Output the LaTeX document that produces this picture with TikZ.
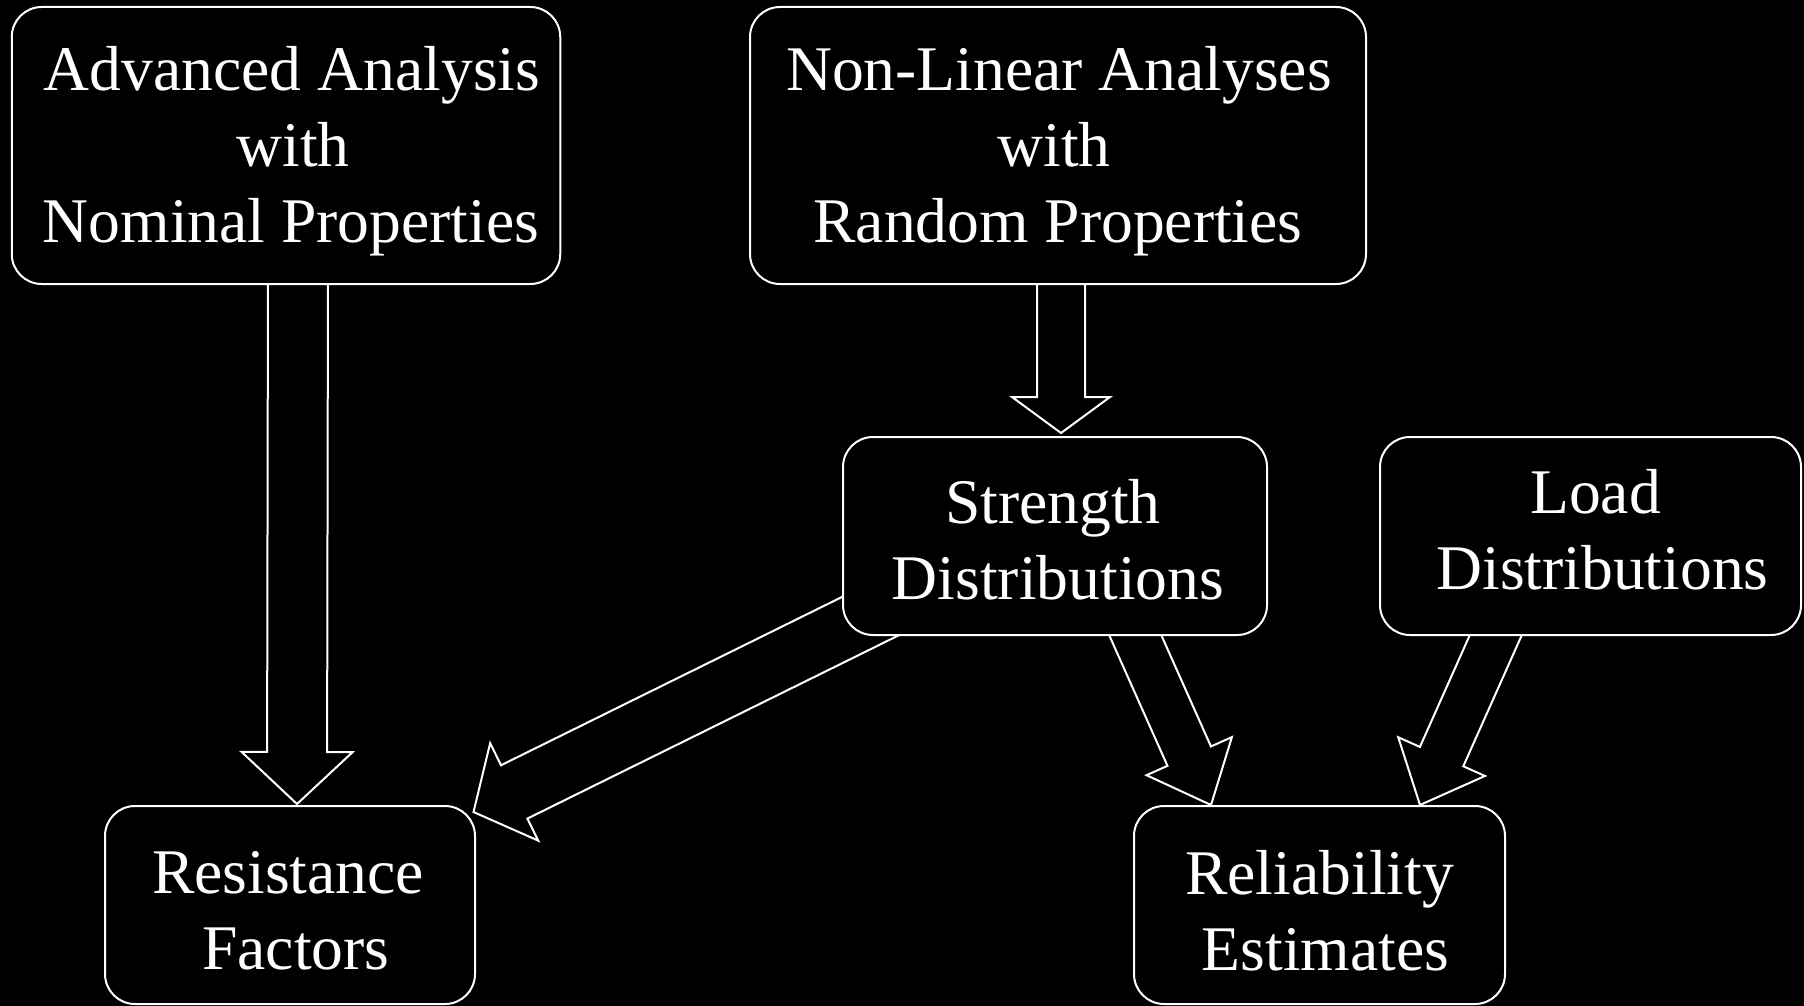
\documentclass[tikz,border=0pt]{standalone}
\usepackage{fontspec}
\setmainfont{Liberation Serif}
\usetikzlibrary{calc,backgrounds}

\tikzset{
  x=0.5pt, y=-0.5pt,
  box/.style={draw=white, fill=black, line width=1pt, rounded corners=15pt,
    inner sep=0pt, text=white, font=\fontsize{31.8}{38}\selectfont},
  barrow/.style={draw=white, fill=black, line width=1pt, line join=miter},
}

% one centred text line, moved sideways by #1 px
\newcommand\tline[2]{\makebox[0pt]{\hspace*{#1pt}#2}}
% stacked lines, lowered by #1
\newcommand\boxtext[2]{\raisebox{#1}[\height][\depth]{\begin{tabular}{@{}c@{}}#2\end{tabular}}}

% Block arrow: #1 tail, #2 tip, #3 shaft width, #4 head width, #5 head length (all in px)
\newcommand\blockarrow[5]{%
  \coordinate (ba-b) at ($(#2)!#5*0.5pt!(#1)$);
  \draw[barrow]
    ($(#1)!#3*0.25pt!90:(#2)$) --
    ($(ba-b)!#3*0.25pt!90:(#2)$) --
    ($(ba-b)!#4*0.25pt!90:(#2)$) --
    (#2) --
    ($(ba-b)!#4*0.25pt!-90:(#2)$) --
    ($(ba-b)!#3*0.25pt!-90:(#2)$) --
    ($(#1)!#3*0.25pt!-90:(#2)$) -- cycle;
}

\begin{document}
\begin{tikzpicture}
\useasboundingbox (0,0) rectangle (1804,1006);

% boxes
\node[box, minimum width=274.25pt, minimum height=138.5pt] (adv) at (286,145.5)
  {\boxtext{-3pt}{\tline{6}{Advanced Analysis}\\\tline{7}{with}\\\tline{5}{Nominal Properties}}};
\node[box, minimum width=308pt, minimum height=138.5pt] (nl) at (1058,145.5)
  {\boxtext{-3pt}{\tline{1}{Non-Linear Analyses}\\\tline{-4}{with}\\\tline{0}{Random Properties}}};
\node[box, minimum width=212pt, minimum height=99pt] (str) at (1055,536)
  {\boxtext{-4.9pt}{\tline{-2}{Strength}\\\tline{3}{Distributions}}};
\node[box, minimum width=210.5pt, minimum height=99pt] (load) at (1590.5,536)
  {\boxtext{0pt}{\tline{5}{Load}\\\tline{12}{Distributions}}};
\node[box, minimum width=185pt, minimum height=99pt] (res) at (290,905)
  {\boxtext{-5.4pt}{\tline{-2}{Resistance}\\\tline{6}{Factors}}};
\node[box, minimum width=185.5pt, minimum height=99pt] (rel) at (1319.5,905)
  {\boxtext{-5.9pt}{\tline{0}{Reliability}\\\tline{6}{Estimates}}};

% block arrows, tails hidden under the boxes
\begin{scope}[on background layer]
  \fill[black] (0,0) rectangle (1804,1006);
  \coordinate (aT) at ($(adv.south)+(12,-24)$);
  \coordinate (aH) at ($(res.north)+(7,-1)$);
  \coordinate (bT) at ($(nl.south)+(3,-24)$);
  \coordinate (bH) at ($(str.north)+(6,-3)$);
  \coordinate (cT) at ($(str.west)+(57,66)$);
  \coordinate (cH) at ($(res.north east)+(-2.5,7)$);
  \coordinate (dT) at ($(str.south)+(65,-35)$);
  \coordinate (dH) at ($(rel.north)+(-108.5,0)$);
  \coordinate (eT) at ($(load.south)+(-79.5,-35)$);
  \coordinate (eH) at ($(rel.north)+(100.5,0)$);
  \blockarrow{aT}{aH}{60}{111}{52}
  \blockarrow{bT}{bH}{48}{98}{36}
  \blockarrow{cT}{cH}{59.5}{108.7}{45.4}
  \blockarrow{dT}{dH}{47.6}{93.5}{53.5}
  \blockarrow{eT}{eH}{47.5}{95}{53}
\end{scope}
\end{tikzpicture}
\end{document}
